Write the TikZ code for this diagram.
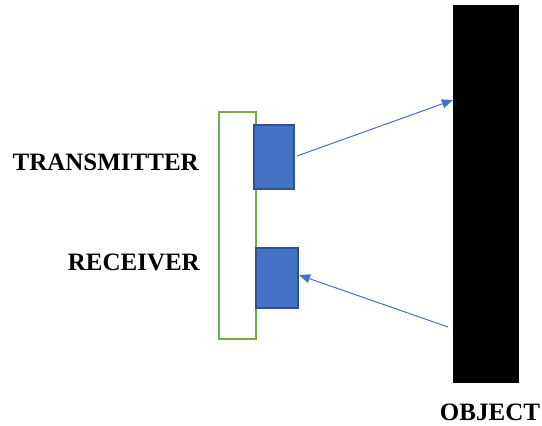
\documentclass[tikz,border=0pt]{standalone}
\usepackage{fontspec}
\setmainfont{Liberation Serif}
\usetikzlibrary{arrows.meta}
\definecolor{boxblue}{HTML}{4472C4}
\definecolor{boxedge}{HTML}{2F528F}
\definecolor{boardgreen}{HTML}{70AD47}
\tikzset{
  px/.style={x=1pt,y=-1pt},
  board/.style={draw=boardgreen,line width=1.6pt,fill=white},
  sensor/.style={draw=boxedge,fill=boxblue,line width=1.4pt},
  wall/.style={fill=black},
  ray/.style={draw=boxblue,line width=1pt,-{Triangle[length=11pt,width=9pt]}},
  lbl/.style={font=\bfseries\fontsize{25}{30}\selectfont,inner sep=0pt}
}
\begin{document}
\begin{tikzpicture}[px]
\useasboundingbox (0,0) rectangle (542,426);
\draw[board] (219,112) rectangle (256,339);
\draw[sensor] (254,125) rectangle (294,189);
\draw[sensor] (256,248) rectangle (298,308);
\fill[wall] (453,5) rectangle (519,383);
\coordinate (txout) at (297,156);
\coordinate (hit1) at (453,100);
\coordinate (hit2) at (448,327);
\coordinate (rxin) at (299,275);
\draw[ray] (txout) -- (hit1);
\draw[ray] (hit2) -- (rxin);
\node[lbl,anchor=base east] (tx) at (199,170) {TRANSMITTER};
\node[lbl,anchor=base east] (rx) at (200,270) {RECEIVER};
\node[lbl,anchor=base] (obj) at (490,420) {OBJECT};
\end{tikzpicture}
\end{document}
